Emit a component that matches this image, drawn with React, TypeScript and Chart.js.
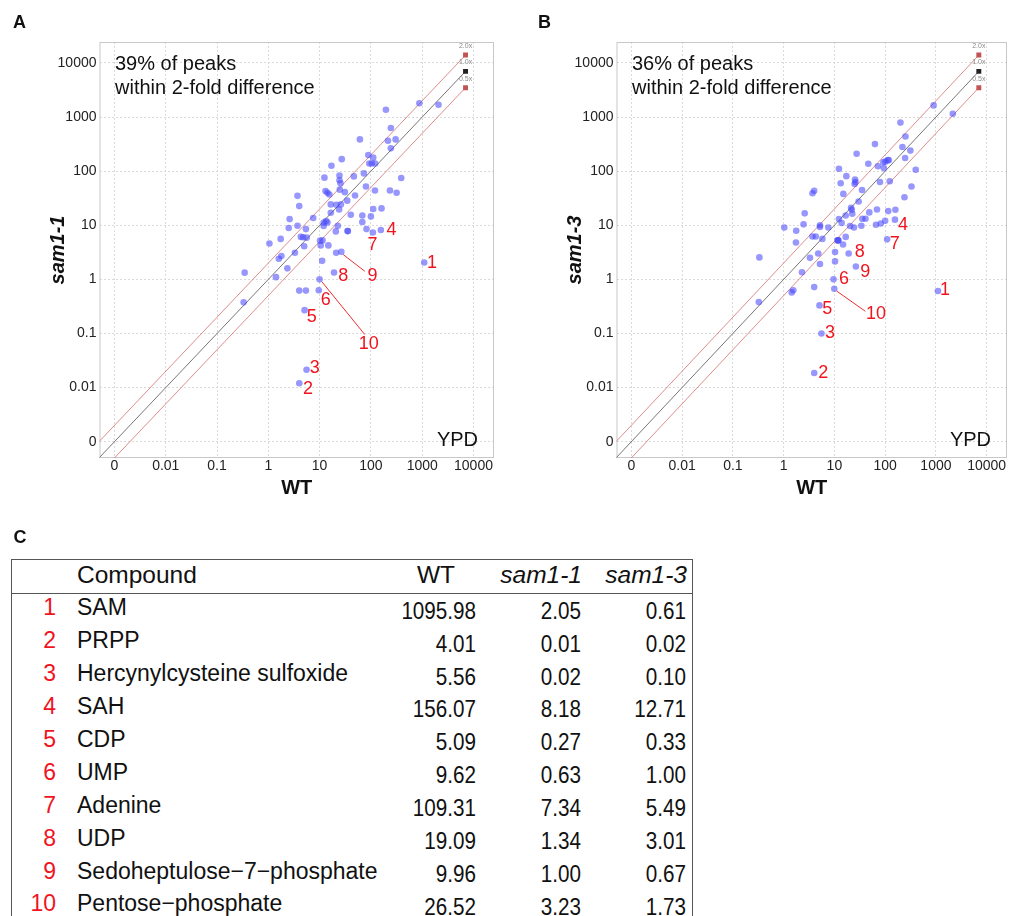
import React, { useEffect, useRef } from "react";
import { Chart, registerables } from "chart.js";

Chart.register(...registerables);

const FONT = "'Liberation Sans', Arial, Helvetica, sans-serif";
Chart.defaults.font.family = FONT;

// ---------- axis ticks ----------
const TICK_VALUES = [0.001, 0.01, 0.1, 1, 10, 100, 1000, 10000];
const TICK_LABELS = ["0", "0.01", "0.1", "1", "10", "100", "1000", "10000"];
const X_MIN = Math.pow(10, -3.292);
const X_MAX = Math.pow(10, 4.4);
const Y_MIN = Math.pow(10, -3.302);
const Y_MAX = Math.pow(10, 4.388);

// ---------- reference lines (fold change) ----------
const REF_FACTORS = [2, 1, 0.5];
const REF_LABELS = ["2.0x", "1.0x", "0.5x"];
const REF_START = 0.0001;
const REF_END = 7000;

// ---------- panel A: WT vs sam1-1 ----------
const A_WT = [
  880, 2080, 196, 245, 303, 215, 61, 245, 89, 111, 93, 104, 121, 27, 17, 46.5, 73, 24.4, 24.4, 25.5,
  12.4, 390, 80, 120, 235, 317, 49, 31, 24.7, 13, 14.2, 15.5, 34.5, 16.5, 21.2, 24, 16.5, 40.5, 68, 100,
  111, 161, 68, 82, 109.31, 156.07, 35, 35.5, 20.7, 22.6, 12, 13.4, 14.2, 12, 7.5, 3.7, 4.0, 2.6, 2.5, 3.7,
  5.4, 4.3, 4.75, 5.6, 5.0, 1.74, 1.05, 1.8, 1.6, 3.3, 2.35, 1.41, 0.345, 0.33, 10.2, 11.4, 10.5, 14.8, 11.2, 21,
  26.52, 19.09, 9.96, 4.0, 5.4, 9.62, 5.09, 5.56, 4.01, 1095.98, 26
];
const A_SAM11 = [
  1800, 1690, 1370, 630, 387, 366, 387, 264, 199, 178, 139, 139, 139, 167, 126, 80, 91, 83, 68, 60,
  76, 75, 52, 44, 44, 40, 35.5, 41, 45.6, 43, 40, 37, 28.5, 24.3, 24, 19.6, 17, 15.7, 15.2, 14.6,
  20, 20.5, 11.5, 8.5, 7.34, 8.18, 7.8, 7.8, 7.7, 9.8, 11.2, 12, 11.2, 9.7, 13.6, 35, 22.6, 13, 8.9, 9.8,
  8.5, 6.1, 6.0, 5.9, 4.1, 5.6, 4.6, 2.7, 2.4, 3.1, 1.6, 1.1, 1.33, 0.376, 5.2, 5.25, 4.25, 4.25, 2.2, 3.1,
  3.23, 1.34, 1.0, 0.62, 0.62, 0.63, 0.27, 0.0214, 0.012, 2.05, 24.3
];
const A_LABEL_TEXT = ["1", "2", "3", "4", "5", "6", "7", "8", "9", "10"];
const A_LABEL_X = [1549, 5.96, 8.04, 251, 7.03, 13.2, 107, 28.8, 107, 91];
const A_LABEL_Y = [2.04, 0.00955, 0.0229, 8.04, 0.2, 0.42, 4.37, 1.15, 1.15, 0.0646];
const A_LEADERS = [
  [{ x: 28.8, y: 2.88 }, { x: 76, y: 1.41 }],
  [{ x: 11, y: 0.91 }, { x: 76, y: 0.0955 }],
];

// ---------- panel B: WT vs sam1-3 ----------
const B_WT = [
  900, 2150, 200, 251, 63, 219, 314, 247, 27.4, 46.5, 72, 92, 101, 112, 118, 94, 12.3, 17.2, 13.3, 25.5,
  26, 25, 79, 123, 400, 330, 240, 35, 15, 30, 3.7, 4.0, 2.6, 21.3, 22, 22.5, 16.7, 48.7, 41, 35.5,
  69, 115, 159, 156.07, 100, 82, 66, 34, 24.3, 20.4, 12.3, 13.9, 7.6, 5.2, 5.2, 2.47, 1.03, 1.77, 1.75, 3.7,
  4.3, 5.8, 11.5, 12, 11.8, 16.7, 14.8, 109.31, 3.3, 4.8, 10.3, 19.09, 10.3, 5.2, 26.52, 2.3, 9.62, 9.96, 4.0, 1.55,
  1.44, 0.333, 0.324, 5.09, 5.56, 4.01, 1095.98
];
const B_SAM13 = [
  1645, 1150, 790, 437, 317, 280, 240, 175, 210, 137, 123, 146, 150, 160, 160, 114, 111, 81, 60, 70,
  63, 58, 63, 65, 106, 52, 33, 45, 38, 27.6, 39, 43.6, 16.6, 21, 19.4, 16.3, 15.2, 17.3, 13.2, 13.2,
  19.6, 18.3, 19.4, 12.71, 12.1, 10.8, 10.2, 9.8, 9.1, 9.7, 13, 11, 9.1, 10, 9.3, 10.4, 9.1, 7.9, 4.8, 6.2,
  6.2, 5.6, 5.25, 5.25, 5.3, 6.1, 4.4, 5.49, 2.5, 3.0, 3.2, 3.01, 2.15, 1.92, 1.73, 1.35, 1.0, 0.67, 0.72, 0.63,
  0.575, 2.55, 0.38, 0.33, 0.1, 0.0186, 0.61
];
const B_LABEL_TEXT = ["1", "2", "3", "4", "5", "6", "7", "8", "9", "10"];
const B_LABEL_X = [1514, 6.03, 8.22, 224, 7.24, 15.5, 155, 31.6, 40.7, 66];
const B_LABEL_Y = [0.63, 0.0182, 0.1, 10.2, 0.288, 1.0, 4.57, 3.2, 1.36, 0.232];
const B_LEADERS = [[{ x: 11.1, y: 0.608 }, { x: 40.7, y: 0.257 }]];

// ---------- table (panel C) ----------
const COMPOUND_IDS = ["1", "2", "3", "4", "5", "6", "7", "8", "9", "10"];
const COMPOUNDS = [
  "SAM", "PRPP", "Hercynylcysteine sulfoxide", "SAH", "CDP", "UMP", "Adenine", "UDP",
  "Sedoheptulose\u22127\u2212phosphate", "Pentose\u2212phosphate",
];
const WT_VALUES = ["1095.98", "4.01", "5.56", "156.07", "5.09", "9.62", "109.31", "19.09", "9.96", "26.52"];
const SAM11_VALUES = ["2.05", "0.01", "0.02", "8.18", "0.27", "0.63", "7.34", "1.34", "1.00", "3.23"];
const SAM13_VALUES = ["0.61", "0.02", "0.10", "12.71", "0.33", "1.00", "5.49", "3.01", "0.67", "1.73"];

const POINT_COLOR = "rgba(70,70,252,0.56)";
const RED_LINE = "rgba(212,112,112,0.8)";
const RED_MARK = "#c25454";
const LABEL_RED = "#f0141e";

type PanelCfg = {
  wt: number[];
  mut: number[];
  yTitle: string;
  summary: string[];
  labelText: string[];
  labelX: number[];
  labelY: number[];
  leaders: { x: number; y: number }[][];
  left: number;
  width: number;
  padRight: number;
};

function makeOverlay(cfg: PanelCfg) {
  return {
    id: "overlay",
    beforeDatasetsDraw(chart: any) {
      const { ctx, chartArea: a } = chart;
      ctx.save();
      ctx.strokeStyle = "#c8c8c8";
      ctx.lineWidth = 1;
      ctx.strokeRect(a.left + 0.5, a.top + 0.5, a.right - a.left - 1, a.bottom - a.top - 1);
      ctx.restore();
    },
    afterDatasetsDraw(chart: any) {
      const { ctx, chartArea: a, scales } = chart;
      const xs = scales.x;
      const ys = scales.y;
      ctx.save();
      ctx.font = `7px ${FONT}`;
      ctx.fillStyle = "#8a8a8a";
      ctx.textAlign = "center";
      ctx.textBaseline = "middle";
      REF_FACTORS.forEach((f, i) => {
        const px = xs.getPixelForValue(REF_END);
        const py = ys.getPixelForValue(REF_END * f);
        ctx.fillText(REF_LABELS[i], px, py - 9);
      });
      ctx.font = `18px ${FONT}`;
      ctx.fillStyle = LABEL_RED;
      cfg.labelText.forEach((t, i) => {
        ctx.fillText(t, xs.getPixelForValue(cfg.labelX[i]), ys.getPixelForValue(cfg.labelY[i]));
      });
      ctx.font = `20px ${FONT}`;
      ctx.fillStyle = "#111";
      ctx.textAlign = "left";
      ctx.fillText(cfg.summary[0], a.left + 15.5, a.top + 22.7);
      ctx.fillText(cfg.summary[1], a.left + 15.5, a.top + 46.7);
      ctx.textAlign = "right";
      ctx.fillText("YPD", a.right - 16, a.bottom - 18);
      ctx.restore();
    },
  };
}

function buildConfig(cfg: PanelCfg): any {
  const points = cfg.wt.map((v, i) => ({ x: v, y: cfg.mut[i] }));
  const refSets = REF_FACTORS.map((f) => ({
    data: [
      { x: REF_START, y: REF_START * f },
      { x: REF_END, y: REF_END * f },
    ],
    showLine: true,
    borderColor: f === 1 ? "#777777" : RED_LINE,
    borderWidth: 1,
    pointRadius: [0, 3.5],
    pointStyle: "rect",
    pointBackgroundColor: f === 1 ? "#222" : RED_MARK,
    pointBorderWidth: 0,
  }));
  const leaderSets = cfg.leaders.map((seg) => ({
    data: seg,
    showLine: true,
    borderColor: "#e83030",
    borderWidth: 1,
    pointRadius: 0,
  }));
  const tickFont = { size: 14, family: FONT };
  const common = {
    type: "logarithmic",
    bounds: "data",
    afterBuildTicks: (s: any) => {
      s.ticks = TICK_VALUES.map((v) => ({ value: v }));
    },
    ticks: {
      autoSkip: false,
      maxRotation: 0,
      color: "#222",
      font: tickFont,
      callback: (_v: any, i: number) => TICK_LABELS[i],
    },
    grid: { color: "#dadada", lineWidth: 1, drawTicks: false },
    border: { display: false, dash: [2, 2] },
  };
  return {
    type: "scatter",
    data: {
      datasets: [
        {
          data: points,
          backgroundColor: POINT_COLOR,
          borderWidth: 0,
          pointRadius: 3.3,
        },
        ...leaderSets,
        ...refSets,
      ],
    },
    options: {
      responsive: false,
      animation: false,
      events: [],
      layout: { padding: { left: 0, top: 42, right: cfg.padRight, bottom: 0 } },
      plugins: { legend: { display: false }, tooltip: { enabled: false } },
      scales: {
        x: {
          ...common,
          position: "bottom",
          min: X_MIN,
          max: X_MAX,
          ticks: { ...common.ticks, padding: 0 },
          afterFit: (s: any) => {
            s.height = 42;
          },
          title: {
            display: true,
            text: "WT",
            color: "#111",
            font: { size: 20, weight: "bold", family: FONT },
            padding: { top: 0, bottom: 0 },
          },
        },
        y: {
          ...common,
          position: "left",
          min: Y_MIN,
          max: Y_MAX,
          ticks: { ...common.ticks, padding: 3 },
          afterFit: (s: any) => {
            s.width = 99.5;
          },
          title: {
            display: true,
            text: cfg.yTitle,
            color: "#111",
            font: { size: 20, weight: "bold", style: "italic", family: FONT },
            padding: { top: 46, bottom: 0 },
          },
        },
      },
    },
    plugins: [makeOverlay(cfg)],
  };
}

function ScatterPanel({ cfg }: { cfg: PanelCfg }) {
  const ref = useRef<HTMLCanvasElement>(null);
  useEffect(() => {
    const chart = new Chart(ref.current as HTMLCanvasElement, buildConfig(cfg));
    return () => chart.destroy();
  }, []);
  return (
    <canvas
      ref={ref}
      width={cfg.width}
      height={500}
      style={{ position: "absolute", left: cfg.left, top: 0, width: cfg.width, height: 500 }}
    />
  );
}

const PANEL_A: PanelCfg = {
  wt: A_WT,
  mut: A_SAM11,
  yTitle: "sam1-1",
  summary: ["39% of peaks", "within 2-fold difference"],
  labelText: A_LABEL_TEXT,
  labelX: A_LABEL_X,
  labelY: A_LABEL_Y,
  leaders: A_LEADERS,
  left: 0,
  width: 505,
  padRight: 11,
};

const PANEL_B: PanelCfg = {
  wt: B_WT,
  mut: B_SAM13,
  yTitle: "sam1-3",
  summary: ["36% of peaks", "within 2-fold difference"],
  labelText: B_LABEL_TEXT,
  labelX: B_LABEL_X,
  labelY: B_LABEL_Y,
  leaders: B_LEADERS,
  left: 517,
  width: 494,
  padRight: 0,
};

const panelLabel = (txt: string, left: number, top: number) => (
  <div
    style={{
      position: "absolute",
      left,
      top,
      fontSize: 18,
      lineHeight: "18px",
      fontWeight: "bold",
      fontFamily: FONT,
      color: "#111",
    }}
  >
    {txt}
  </div>
);

function CompoundTable() {
  const rowStep = 32.9;
  const nameC0 = 607.3;
  const numC0 = 610.7;
  const L = 30;
  const rightCell = (text: string, right: number, center: number, extra: any = {}) => (
    <div
      style={{
        position: "absolute",
        left: right - 200,
        width: 200,
        top: center - L / 2,
        height: L,
        lineHeight: L + "px",
        textAlign: "right",
        whiteSpace: "nowrap",
        ...extra,
      }}
    >
      {text}
    </div>
  );
  const numStyle = { fontSize: 24, transform: "scaleX(0.86)", transformOrigin: "right center" };
  return (
    <>
      <div
        style={{
          position: "absolute",
          left: 11,
          top: 559,
          width: 680,
          height: 420,
          border: "1px solid #555",
        }}
      />
      <div style={{ position: "absolute", left: 11, top: 593, width: 682, height: 0, borderTop: "1px solid #555" }} />
      <div
        style={{
          position: "absolute",
          left: 77,
          top: 575 - L / 2,
          height: L,
          lineHeight: L + "px",
          fontSize: 24.5,
          whiteSpace: "nowrap",
        }}
      >
        Compound
      </div>
      {rightCell("WT", 455, 575, { fontSize: 24.5 })}
      {rightCell("sam1-1", 582, 575, { fontSize: 24.5, fontStyle: "italic" })}
      {rightCell("sam1-3", 687, 575, { fontSize: 24.5, fontStyle: "italic" })}
      {COMPOUNDS.map((name, i) => {
        const nc = nameC0 + rowStep * i;
        const vc = numC0 + rowStep * i;
        return (
          <React.Fragment key={i}>
            {rightCell(COMPOUND_IDS[i], 56, nc, { fontSize: 23, color: LABEL_RED })}
            <div
              style={{
                position: "absolute",
                left: 77,
                top: nc - L / 2,
                height: L,
                lineHeight: L + "px",
                fontSize: 23,
                whiteSpace: "nowrap",
              }}
            >
              {name}
            </div>
            {rightCell(WT_VALUES[i], 476, vc, numStyle)}
            {rightCell(SAM11_VALUES[i], 581, vc, numStyle)}
            {rightCell(SAM13_VALUES[i], 686, vc, numStyle)}
          </React.Fragment>
        );
      })}
    </>
  );
}

export default function App() {
  return (
    <div
      style={{
        position: "absolute",
        left: 0,
        top: 0,
        width: 1011,
        height: 916,
        overflow: "hidden",
        background: "#fff",
        fontFamily: FONT,
        color: "#111",
      }}
    >
      <ScatterPanel cfg={PANEL_A} />
      <ScatterPanel cfg={PANEL_B} />
      {panelLabel("A", 13, 12.7)}
      {panelLabel("B", 538, 12.7)}
      {panelLabel("C", 13.5, 528.4)}
      <CompoundTable />
    </div>
  );
}
